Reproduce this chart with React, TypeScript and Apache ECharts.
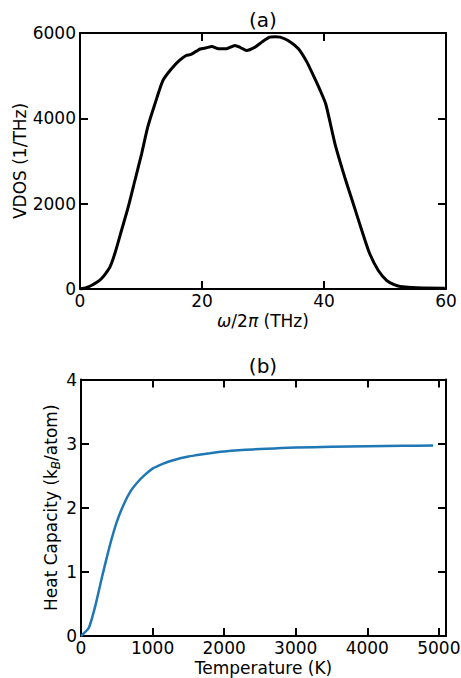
import React, { useEffect, useRef } from "react";
import * as echarts from "echarts";

const FONT = "DejaVu Sans";

// Panel (a): vibrational density of states
const vdosFreq = [0, 1, 1.85, 2.7, 3.5, 4.2, 4.9, 5.7, 6.8, 7.9, 9.0, 10.1, 11.1, 12.2, 13.6, 15.0, 16.3, 17.4, 18.2, 19.1, 19.7, 20.7, 21.6, 22.7, 24.0, 25.4, 26.3, 27.3, 28.7, 29.8, 31.1, 32.0, 32.8, 34.1, 35.8, 37.2, 38.5, 39.3, 40.3, 41.8, 43.4, 44.8, 46.2, 47.5, 48.9, 50.3, 51.5, 52.5, 55.2, 59.8];
const vdosValue = [0, 30, 82, 150, 240, 360, 510, 825, 1371, 1918, 2543, 3169, 3793, 4301, 4887, 5161, 5356, 5473, 5497, 5575, 5625, 5653, 5684, 5630, 5632, 5708, 5660, 5590, 5668, 5786, 5903, 5915, 5903, 5825, 5630, 5317, 4930, 4680, 4330, 3403, 2621, 1997, 1371, 825, 434, 199, 100, 59, 28, 19];

// Panel (b): heat capacity
const temperature = [0, 110, 200, 300, 400, 500, 600, 700, 800, 900, 1000, 1100, 1200, 1300, 1400, 1500, 1600, 1700, 1800, 1900, 2000, 2200, 2400, 2600, 2800, 3000, 3500, 4000, 4500, 4920];
const heatCapacity = [0, 0.13, 0.47, 0.95, 1.4, 1.78, 2.06, 2.27, 2.41, 2.52, 2.61, 2.665, 2.71, 2.745, 2.775, 2.8, 2.818, 2.835, 2.85, 2.865, 2.878, 2.897, 2.91, 2.92, 2.93, 2.938, 2.952, 2.96, 2.966, 2.97];

const vdosTicks = { min: 0, max: 6000, interval: 2000 };
const freqTicks = { min: 0, max: 60, interval: 20 };
const tempTicks = { min: 0, max: 5100, interval: 1000 };
const cvTicks = { min: 0, max: 4, interval: 1 };

const axisLineStyle = { show: true, onZero: false, lineStyle: { color: "#000", width: 2 } };
const tickStyle = { show: true, inside: true, length: 8, lineStyle: { color: "#000", width: 2 } };
const labelStyle = { color: "#000", fontSize: 17, fontFamily: FONT };

export default function App() {
  const ref = useRef<HTMLDivElement>(null);
  useEffect(() => {
    const chart = echarts.init(ref.current!, null, { renderer: "svg" });
    const mainX = (grid: number, t: any, name: string, gap: number, rich?: any) => ({
      type: "value",
      gridIndex: grid,
      position: "bottom",
      ...t,
      name,
      nameLocation: "middle",
      nameGap: gap,
      nameMoveOverlap: false,
      nameTextStyle: { color: "#000", fontSize: 17, fontFamily: FONT, rich },
      axisLine: axisLineStyle,
      axisTick: tickStyle,
      axisLabel: {
        ...labelStyle,
        margin: 3,
        formatter: (v: number) => (v % t.interval === 0 ? String(v) : ""),
      },
      splitLine: { show: false },
    });
    const mainY = (grid: number, t: any, name: string, gap: number, rich?: any) => ({
      type: "value",
      gridIndex: grid,
      position: "left",
      ...t,
      name,
      nameLocation: "middle",
      nameGap: gap,
      nameMoveOverlap: false,
      nameTextStyle: { color: "#000", fontSize: 17, fontFamily: FONT, rich },
      axisLine: axisLineStyle,
      axisTick: tickStyle,
      axisLabel: { ...labelStyle, margin: 4, formatter: (v: number) => String(v) },
      splitLine: { show: false },
    });
    const mirror = (grid: number, t: any, pos: string) => ({
      type: "value",
      gridIndex: grid,
      position: pos,
      ...t,
      axisLine: axisLineStyle,
      axisTick: tickStyle,
      axisLabel: { show: false },
      splitLine: { show: false },
    });
    chart.setOption({
      animation: false,
      backgroundColor: "#fff",
      textStyle: { fontFamily: FONT },
      grid: [
        { left: 80, top: 33, width: 366, height: 256, outerBoundsMode: "none", containLabel: false },
        { left: 81, top: 379.5, width: 365, height: 256.5, outerBoundsMode: "none", containLabel: false },
      ],
      xAxis: [
        mainX(0, freqTicks, "{i|ω}/2{i|π} (THz)", 23, {
          i: { fontStyle: "italic", fontSize: 17, fontFamily: FONT, color: "#000" },
        }),
        mirror(0, freqTicks, "top"),
        mainX(1, tempTicks, "Temperature (K)", 23),
        mirror(1, tempTicks, "top"),
      ],
      yAxis: [
        mainY(0, vdosTicks, "VDOS (1/THz)", 52),
        mirror(0, vdosTicks, "right"),
        mainY(1, cvTicks, "Heat Capacity (k{sub|B}/atom)", 19, {
          sub: { fontSize: 12, fontStyle: "italic", fontFamily: FONT, color: "#000", verticalAlign: "bottom", lineHeight: 22 },
        }),
        mirror(1, cvTicks, "right"),
      ],
      series: [
        {
          type: "line",
          xAxisIndex: 0,
          yAxisIndex: 0,
          data: vdosFreq.map((f, i) => [f, vdosValue[i]]),
          showSymbol: false,
          smooth: 0.2,
          lineStyle: { color: "#000", width: 3 },
        },
        {
          type: "line",
          xAxisIndex: 2,
          yAxisIndex: 2,
          data: temperature.map((t, i) => [t, heatCapacity[i]]),
          showSymbol: false,
          smooth: 0.15,
          lineStyle: { color: "#1f77b4", width: 2.5 },
        },
      ],
      graphic: [
        {
          type: "text",
          x: 263,
          y: 20,
          style: { text: "(a)", fontSize: 20, fontFamily: FONT, fill: "#000", align: "center", verticalAlign: "middle" },
        },
        {
          type: "text",
          x: 263,
          y: 366,
          style: { text: "(b)", fontSize: 20, fontFamily: FONT, fill: "#000", align: "center", verticalAlign: "middle" },
        },
      ],
    });
    return () => chart.dispose();
  }, []);
  return (
    <div
      ref={ref}
      style={{ position: "absolute", left: 0, top: 0, width: 461, height: 678, background: "#fff" }}
    />
  );
}
